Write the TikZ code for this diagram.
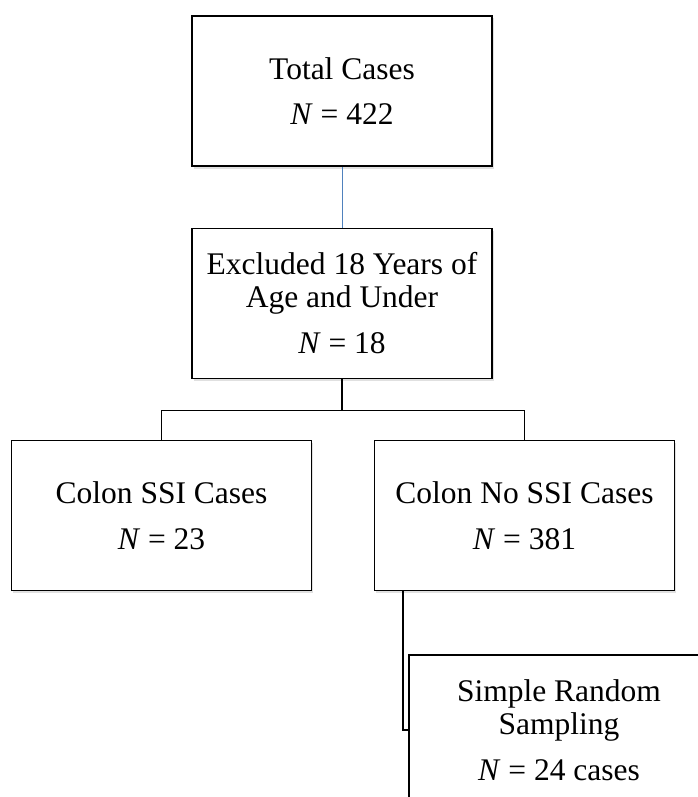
\documentclass[tikz,border=0pt]{standalone}
\usepackage{fontspec}
\setmainfont{Liberation Serif}
\usetikzlibrary{shadows}

\definecolor{linkblue}{RGB}{79,129,189}

\tikzset{
  casebox/.style={draw, line width=1.8pt, fill=white,
    minimum width=300pt, minimum height=150pt, inner sep=0pt,
    align=center, font=\fontsize{31.5}{33}\selectfont,
    drop shadow={shadow xshift=1.5pt, shadow yshift=-2.5pt, fill=black!12, opacity=1}},
  link/.style={line width=1.8pt}
}

\begin{document}
\begin{tikzpicture}[x=1pt, y=1pt]
        \useasboundingbox (0, 0) rectangle (697, -797);
        \node[casebox] (total) at (342, -91) {Total Cases\\[12pt]\textit{N} = 422};
        \node[casebox] (excl) at (342, -303.5) {Excluded 18 Years of\\Age and Under\\[13pt]\textit{N} = 18};
        \node[casebox] (ssi) at (161.5, -515.5) {Colon SSI Cases\\[13pt]\textit{N} = 23};
        \node[casebox] (nossi) at (524.5, -515.5) {Colon No SSI Cases\\[13pt]\textit{N} = 381};
        \node[casebox] (srs) at (559, -730) {Simple Random\\Sampling\\[13pt]\textit{N} = 24 cases};
        % thin blue link between the two top boxes
        \draw[linkblue, line width=1pt] (total.south) -- (excl.north);
        % split into the two colon groups
        \draw[link] (excl.south) -- ++(0, -31) coordinate (split);
        \draw[link] (split) -| (ssi.north);
        \draw[link] (split) -| (nossi.north);
        \draw[link] ([xshift=29pt]nossi.south west) |- (srs.west);
    \end{tikzpicture}
\end{document}
